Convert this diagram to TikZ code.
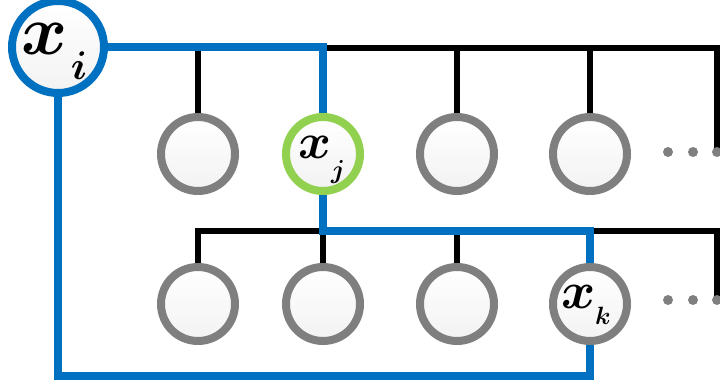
\RequirePackage{fix-cm}
\documentclass[tikz,border=0pt]{standalone}
\usepackage{fontspec}
\setmainfont{Liberation Serif}
\usetikzlibrary{backgrounds}
\definecolor{myblue}{HTML}{0070C0}
\definecolor{mygreen}{HTML}{92D050}
\definecolor{mygray}{HTML}{7F7F7F}
\tikzset{
  nd/.style={circle, draw=mygray, line width=8pt, minimum size=74pt, inner sep=0pt, top color=white, bottom color=black!5},
  blueline/.style={draw=myblue, line width=7.5pt, line join=miter},
  blackline/.style={draw=black, line width=6pt, line join=miter},
  dotn/.style={circle, fill=mygray, minimum size=10pt, inner sep=0pt},
  lab/.style={inner sep=0pt}
}
\newcommand{\mylab}[2]{{\fontsize{#1}{#1}\selectfont\boldmath$#2$}}
\begin{document}
\begin{tikzpicture}[x=1pt,y=-1pt]
\useasboundingbox (0,0) rectangle (720,387);
% nodes
\node[nd, draw=myblue, minimum size=92pt] (xi) at (58,47) {};
\node[nd] (n11) at (198,154) {};
\node[nd, draw=mygreen] (xj) at (323,154) {};
\node[nd] (n13) at (457,154) {};
\node[nd] (n14) at (590,154) {};
\node[nd] (n21) at (198,304) {};
\node[nd] (n22) at (323,304) {};
\node[nd] (n23) at (457,304) {};
\node[nd] (xk) at (590,304) {};
\node[dotn] (d1a) at (668,152) {};
\node[dotn] (d1b) at (693,152) {};
\node[dotn] (d1c) at (717,152) {};
\node[dotn] (d2a) at (668,300) {};
\node[dotn] (d2b) at (693,300) {};
\node[dotn] (d2c) at (717,300) {};
\coordinate (r1) at (716,48);
\coordinate (l2) at (198,231);
\coordinate (bot) at (58,376);
% labels
\node[lab] (xit) at (45,39) {\mylab{70}{x}};
\node[lab] (xis) at (79,66) {\mylab{40}{i}};
\node[lab] (xjt) at (315,147) {\mylab{50}{x}};
\node[lab] (xjs) at (338,172) {\mylab{26}{j}};
\node[lab] (xkt) at (579,297) {\mylab{52}{x}};
\node[lab] (xks) at (603,316) {\mylab{25}{k}};
\begin{pgfonlayer}{background}
  % black lines
  \draw[blackline] (xj.center |- r1) -| (d1c.center);
  \draw[blackline] (n11.center) -- (n11.center |- r1);
  \draw[blackline] (n13.center) -- (n13.center |- r1);
  \draw[blackline] (n14.center) -- (n14.center |- r1);
  \draw[blackline] (n21.center) |- (xj.center |- l2);
  \draw[blackline] (n22.center) -- (n22.center |- l2);
  \draw[blackline] (n23.center) -- (n23.center |- l2);
  \draw[blackline] (xk.center |- l2) -| (d2c.center);
  % blue path
  \draw[blueline] (xi.center) -| (xj.center);
  \draw[blueline] (xj.center) -- (xj.center |- l2) -| (xk.center);
  \draw[blueline] (xk.center) |- (bot) -- (xi.center);
\end{pgfonlayer}
\end{tikzpicture}
\end{document}
